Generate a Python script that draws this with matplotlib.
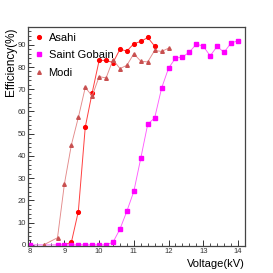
import numpy as np
import matplotlib.pyplot as plt
from matplotlib.ticker import MultipleLocator

plt.rcParams['font.family'] = ['Liberation Sans Narrow', 'Liberation Sans', 'DejaVu Sans']

# Data
asahi_v = [9.0, 9.2, 9.4, 9.6, 9.8, 10.0, 10.2, 10.4, 10.6, 10.8, 11.0, 11.2, 11.4, 11.6]
asahi_e = [0, 1.2, 15, 53, 68.5, 83, 83, 82, 88, 87.2, 90.5, 91.5, 93.3, 89.4]

sg_v = [8.0, 8.8, 9.0, 9.2, 9.4, 9.6, 9.8, 10.0, 10.2, 10.4, 10.6, 10.8, 11.0, 11.2,
        11.4, 11.6, 11.8, 12.0, 12.2, 12.4, 12.6, 12.8, 13.0, 13.2, 13.4, 13.6, 13.8, 14.0]
sg_e = [0, 0, 0, 0, 0, 0, 0, 0, 0, 1.2, 7.1, 15.2, 24.1, 39,
        54.3, 57.1, 70.5, 79.5, 84, 84.5, 86.7, 90.3, 89.4, 85, 89.3, 86.6, 90.8, 91.8]

modi_v = [8.4, 8.8, 9.0, 9.2, 9.4, 9.6, 9.8, 10.0, 10.2, 10.4, 10.6, 10.8, 11.0,
          11.2, 11.4, 11.6, 11.8, 12.0]
modi_e = [0, 3.2, 27.5, 45, 57.3, 70.8, 67, 75.7, 75.1, 83.3, 79.3, 80.8, 86,
          82.6, 82.3, 87.5, 87, 88.5]

fig = plt.figure(figsize=(2.73, 2.73), dpi=100)
ax = fig.add_axes([0.1026, 0.099, 0.7944, 0.802])

ax.plot(asahi_v, asahi_e, color='#ff4040', lw=0.7, marker='o', ms=2.7,
        mfc='red', mec='red', label='Asahi')
ax.plot(sg_v, sg_e, color='#ff5cff', lw=0.65, marker='s', ms=2.5,
        mfc='#ff00ff', mec='#ff00ff', label='Saint Gobain')
ax.plot(modi_v, modi_e, color='#e38a8a', lw=0.65, marker='^', ms=2.6,
        mfc='#c85050', mec='#c85050', label='Modi')

ax.set_xlim(7.95, 14.2)
ax.set_ylim(-0.5, 98)
ax.xaxis.set_major_locator(MultipleLocator(1))
ax.xaxis.set_minor_locator(MultipleLocator(0.2))
ax.yaxis.set_major_locator(MultipleLocator(10))
ax.yaxis.set_minor_locator(MultipleLocator(2))
ax.tick_params(which='both', direction='in', labelsize=5.5, pad=1.5, colors='#333333')
ax.tick_params(which='major', length=4.5, width=0.7)
ax.tick_params(which='minor', length=2.2, width=0.6)
for s in ax.spines.values():
    s.set_linewidth(0.9)
    s.set_color('#444444')

fig.text(0.018, 0.90, 'Efficiency(%)', rotation=90, ha='left', va='top', fontsize=8.5)
fig.text(0.897, 0.033, 'Voltage(kV)', ha='right', va='center', fontsize=8)

ax.legend(loc='upper left', bbox_to_anchor=(0.0, 1.01), frameon=False, fontsize=8,
          handlelength=0.6, handletextpad=0.55, labelspacing=0.68, borderpad=0.3,
          borderaxespad=0.4, numpoints=1)
for line in ax.get_legend().get_lines():
    line.set_linestyle('none')

fig.savefig('out.png', dpi=100)
